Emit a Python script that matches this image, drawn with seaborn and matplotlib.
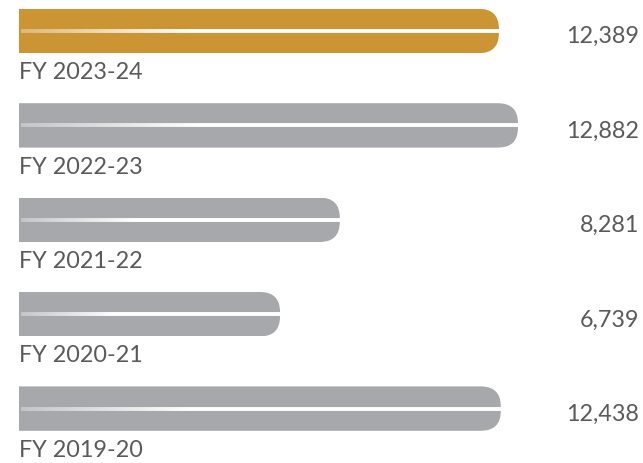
import numpy as np
import pandas as pd
import matplotlib
matplotlib.use("Agg")
import matplotlib.pyplot as plt
import seaborn as sns
from matplotlib.patches import FancyBboxPatch
from matplotlib.collections import LineCollection

# data
years = ["FY 2023-24", "FY 2022-23", "FY 2021-22", "FY 2020-21", "FY 2019-20"]
values = [12389, 12882, 8281, 6739, 12438]
bar_colors = ["#CB9533", "#A7A8AC", "#A7A8AC", "#A7A8AC", "#A7A8AC"]

df = pd.DataFrame({"year": years, "value": values})

sns.set_theme(style="white")
plt.rcParams["font.family"] = ["Lato", "DejaVu Sans"]

fig = plt.figure(figsize=(6.43, 4.64), dpi=100)
W, H = 643, 464
left_px = 19
ax = fig.add_axes([left_px / W, 0, 1 - left_px / W, 1])

px_per_unit = (518 - left_px) / 12882
step_px = 94.4
first_center = 32

sns.barplot(data=df, x="value", y="year", hue="year", palette=bar_colors,
            orient="h", width=0.47, legend=False, ax=ax, saturation=1)

ax.set_xlim(0, (W - left_px) / px_per_unit)
ax.set_ylim((H - first_center) / step_px, -first_center / step_px)

# round the right ends of the bars
r_px = 20
rx = r_px / px_per_unit
ry = r_px / step_px
for patch in ax.patches:
    x0, y0 = patch.get_x(), patch.get_y()
    w, h = patch.get_width(), patch.get_height()
    clip = FancyBboxPatch((-3 * rx, y0), w + 3 * rx, h,
                          boxstyle=f"round,pad=0,rounding_size={rx}",
                          mutation_aspect=ry / rx, transform=ax.transData)
    patch.set_clip_path(clip)
    patch.set_edgecolor("none")

# white highlight line through each bar
for i, v in enumerate(values):
    xs = np.linspace(2 / px_per_unit, v, 120)
    segs = [[(xs[k], i), (xs[k + 1], i)] for k in range(len(xs) - 1)]
    ramp = np.clip(np.linspace(0.35, 2.2, len(segs)), 0, 1)
    cols = [(1, 1, 1, a) for a in ramp]
    ax.add_collection(LineCollection(segs, colors=cols, linewidths=2.8,
                                     capstyle="butt", zorder=3))

text_col = "#5a5a5a"
val_x = (639 - left_px) / (W - left_px)
for i, (lab, v) in enumerate(zip(years, values)):
    ax.text(0, i + 0.5, lab, fontsize=16.8, color=text_col,
            fontweight="normal", va="baseline", ha="left")
    ax.text(val_x, i + 0.12, f"{v:,}", fontsize=16.8, color=text_col,
            fontweight="normal", va="baseline", ha="right",
            transform=ax.get_yaxis_transform())

ax.set_xlabel("")
ax.set_ylabel("")
ax.set_xticks([])
ax.set_yticks([])
sns.despine(ax=ax, left=True, bottom=True)

fig.savefig("out.png", dpi=100)
